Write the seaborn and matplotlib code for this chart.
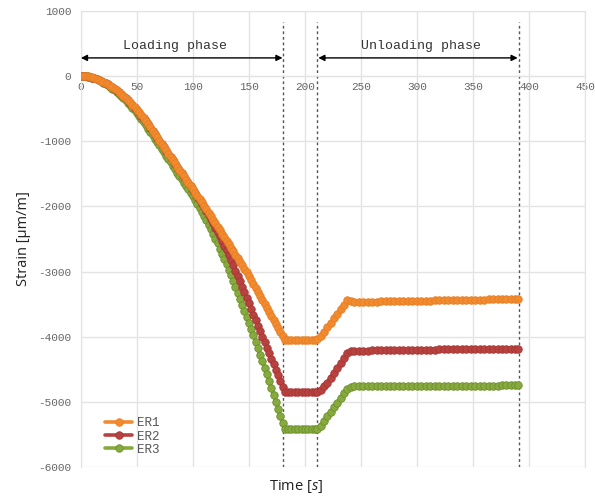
import matplotlib
matplotlib.use("Agg")
import matplotlib.pyplot as plt
import seaborn as sns
import pandas as pd

# time [s] shared by the three gauges
time = [0, 2, 4, 6, 8, 10, 12, 14, 16, 18, 20, 22, 24, 26, 28, 30, 32, 34, 36, 38,
        40, 42, 44, 46, 48, 50, 52, 54, 56, 58, 60, 62, 64, 66, 68, 70, 72, 74, 76, 78,
        80, 82, 84, 86, 88, 90, 92, 94, 96, 98, 100, 102, 104, 106, 108, 110, 112, 114,
        116, 118, 120, 122, 124, 126, 128, 130, 132, 134, 136, 138, 140, 142, 144, 146,
        148, 150, 152, 154, 156, 158, 160, 162, 164, 166, 168, 170, 172, 174, 176, 178,
        180, 182,
        185, 188, 191, 194, 197, 200, 203, 206, 209, 211,
        214, 217, 220, 223, 226, 229, 232, 235, 238, 241, 244,
        248, 252, 256, 260, 264, 268, 272, 276, 280, 284, 288, 292, 296, 300, 304, 308,
        312, 316, 320, 324, 328, 332, 336, 340, 344, 348, 352, 356, 360, 364, 368, 372,
        376, 380, 384, 388, 390]

er1 = [0, 0, -2, -5, -10, -19, -29, -41, -54, -69, -86, -104, -123, -144, -167, -191,
       -217, -244, -273, -303, -335, -368, -403, -440, -478, -517, -558, -601, -645,
       -691, -738, -788, -838, -888, -938, -988, -1038, -1088, -1138, -1188, -1238,
       -1288, -1338, -1388, -1438, -1488, -1538, -1588, -1638, -1688, -1738, -1788,
       -1838, -1888, -1938, -1988, -2042, -2096, -2150, -2204, -2258, -2312, -2366,
       -2420, -2474, -2528, -2582, -2636, -2690, -2744, -2798, -2852, -2906, -2960,
       -3014, -3068, -3129, -3190, -3251, -3312, -3373, -3434, -3495, -3556, -3617,
       -3678, -3739, -3800, -3861, -3922, -3983, -4044,
       -4045, -4045, -4046, -4046, -4046, -4045, -4045, -4044, -4043, -4042,
       -3992, -3923, -3854, -3785, -3716, -3647, -3578, -3509, -3435, -3452, -3465,
       -3466, -3465, -3463, -3462, -3461, -3459, -3458, -3457, -3455, -3454, -3453,
       -3451, -3450, -3449, -3447, -3446, -3445, -3443, -3442, -3441, -3439, -3438,
       -3437, -3435, -3434, -3433, -3431, -3430, -3429, -3427, -3426, -3425, -3423,
       -3422, -3421, -3420, -3420]

er2 = [0, 0, -2, -6, -12, -21, -31, -43, -57, -72, -89, -107, -127, -148, -171, -195,
       -221, -248, -277, -307, -339, -372, -407, -444, -482, -521, -562, -605, -649,
       -695, -742, -792, -842, -892, -942, -992, -1042, -1092, -1142, -1192, -1242,
       -1292, -1342, -1392, -1442, -1492, -1542, -1592, -1642, -1694, -1745, -1796,
       -1848, -1902, -1958, -2015, -2074, -2134, -2196, -2260, -2325, -2392, -2460,
       -2530, -2602, -2675, -2750, -2826, -2904, -2984, -3065, -3150, -3235, -3320,
       -3405, -3490, -3575, -3660, -3745, -3830, -3915, -4000, -4085, -4170, -4255,
       -4340, -4425, -4510, -4595, -4680, -4765, -4850,
       -4851, -4852, -4852, -4853, -4853, -4852, -4852, -4851, -4851, -4850,
       -4815, -4760, -4706, -4630, -4555, -4480, -4405, -4330, -4255, -4220, -4215,
       -4214, -4213, -4212, -4211, -4210, -4209, -4208, -4207, -4206, -4205, -4204,
       -4203, -4202, -4201, -4200, -4199, -4198, -4197, -4196, -4195, -4194, -4193,
       -4192, -4191, -4190, -4189, -4188, -4187, -4186, -4185, -4184, -4184, -4183,
       -4182, -4182, -4181, -4181]

er3 = [0, 0, -2, -5, -14, -24, -36, -50, -65, -82, -100, -120, -142, -165, -190, -216,
       -244, -274, -305, -338, -372, -408, -446, -485, -526, -568, -612, -658, -705,
       -754, -804, -856, -908, -960, -1012, -1064, -1116, -1168, -1220, -1272, -1324,
       -1376, -1428, -1480, -1532, -1584, -1636, -1688, -1740, -1792, -1844, -1901,
       -1960, -2020, -2082, -2147, -2212, -2280, -2350, -2421, -2494, -2569, -2646,
       -2724, -2804, -2887, -2970, -3056, -3144, -3233, -3324, -3416, -3509, -3602,
       -3696, -3790, -3885, -3981, -4078, -4176, -4275, -4375, -4476, -4578, -4681,
       -4785, -4890, -4996, -5103, -5211, -5320, -5420,
       -5421, -5422, -5423, -5423, -5423, -5423, -5422, -5422, -5421, -5420,
       -5375, -5300, -5220, -5150, -5080, -5010, -4940, -4870, -4805, -4765, -4764,
       -4764, -4764, -4763, -4763, -4762, -4762, -4761, -4761, -4760, -4760, -4759,
       -4759, -4758, -4758, -4757, -4757, -4756, -4756, -4755, -4755, -4754, -4754,
       -4753, -4753, -4752, -4752, -4751, -4751, -4750, -4750, -4749, -4749, -4748,
       -4748, -4747, -4747, -4747]

phase_lines = [180.5, 210.6, 391.5]

df = pd.concat([pd.DataFrame({"time": time, "strain": s, "gauge": g})
                for g, s in [("ER1", er1), ("ER2", er2), ("ER3", er3)]])

sns.set_style("white")
plt.rcParams["font.family"] = ["Liberation Mono", "DejaVu Sans Mono"]
plt.rcParams["axes.unicode_minus"] = False
plt.rcParams["mathtext.fontset"] = "custom"
plt.rcParams["mathtext.it"] = "Open Sans:italic"
plt.rcParams["mathtext.rm"] = "Open Sans"

colors = {"ER1": ("#F28B30", "#E67E22"),
          "ER2": ("#B8423F", "#A53634"),
          "ER3": ("#86AA3E", "#6E8F2E")}

fig = plt.figure(figsize=(5.95, 5.0), dpi=100)
ax = fig.add_axes([0.136, 0.066, 0.847, 0.912])

# draw ER3 first so ER1 ends up on top
for g in ["ER3", "ER2", "ER1"]:
    fc, ec = colors[g]
    sns.lineplot(data=df[df.gauge == g], x="time", y="strain", ax=ax, color=fc,
                 marker="o", markersize=5.4, markerfacecolor=fc, markeredgecolor=ec,
                 markeredgewidth=0.6, linewidth=2.6, label=g, zorder=3)

for x in phase_lines:
    ax.plot([x, x], [-6000, 830], ls=(0, (2, 2)), color="#555555", lw=1, zorder=2)

arrow = dict(arrowstyle="<|-|>", color="black", lw=1, mutation_scale=9, shrinkA=0, shrinkB=0)
ax.annotate("", xy=(0, 280), xytext=(180, 280), arrowprops=arrow)
ax.annotate("", xy=(212, 280), xytext=(390, 280), arrowprops=arrow)
ax.text(84, 460, "Loading phase", ha="center", va="center", fontsize=9.5, color="#333333")
ax.text(304, 460, "Unloading phase", ha="center", va="center", fontsize=9.5, color="#333333")

ax.set_xlim(0, 450)
ax.set_ylim(-6000, 1000)
ax.set_xticks(range(0, 451, 50))
ax.set_yticks(range(-6000, 1001, 1000))
ax.grid(True, color="#e3e3e3", lw=1)
ax.set_axisbelow(True)
for s in ax.spines.values():
    s.set_color("#e3e3e3")
ax.spines["bottom"].set_position(("data", 0))
ax.tick_params(length=0, labelsize=8, labelcolor="#666666")
ax.tick_params(axis="y", pad=7)
ax.tick_params(axis="x", pad=4)

ax.set_xlabel("Time [$s$]", fontsize=10.5, family="Open Sans", color="#222222")
ax.set_ylabel("Strain [μm/m]", fontsize=10.5, family="Open Sans", color="#222222")
ax.xaxis.set_label_coords(0.427, -0.024)
ax.yaxis.set_label_coords(-0.1, 0.5)

handles, labels = ax.get_legend_handles_labels()
order = [labels.index(n) for n in ["ER1", "ER2", "ER3"]]
ax.legend([handles[i] for i in order], [labels[i] for i in order], loc="lower left",
          bbox_to_anchor=(0.025, 0.0), frameon=False, fontsize=9, handlelength=2.2,
          labelspacing=0.1, handletextpad=0.4, labelcolor="#555555")

fig.savefig("out.png", dpi=100)
